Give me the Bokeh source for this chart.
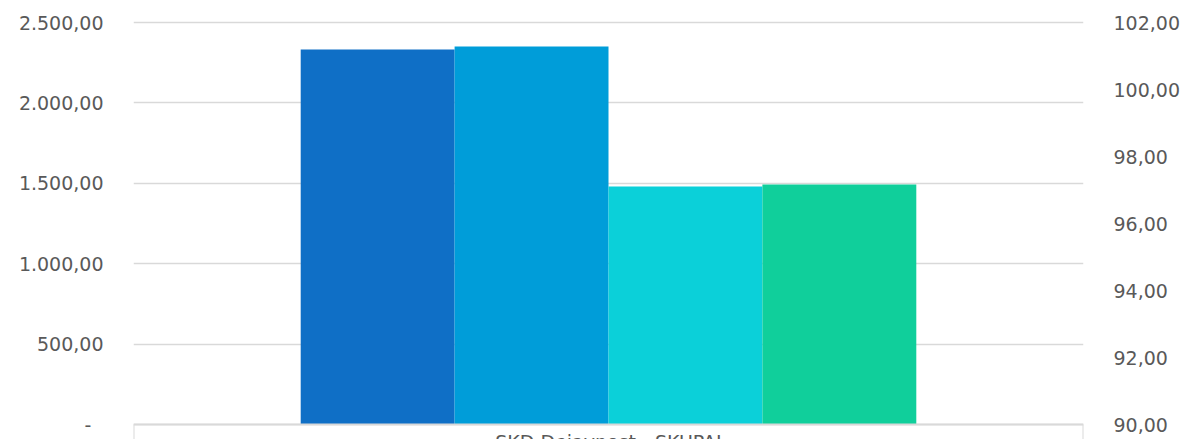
from bokeh.plotting import figure
from bokeh.models import Range1d, LinearAxis, FixedTicker, ColumnDataSource
from bokeh.core.properties import value
from bokeh.embed import file_html
from bokeh.resources import INLINE

# ---- data ----
category = "SKD Dejavnost - SKUPAJ"
series_names = ["Serija 1", "Serija 2", "Serija 3", "Serija 4"]
series_values = [2332, 2351, 1480, 1493]
series_colors = ["#0F6FC6", "#009DD9", "#0BD0D9", "#10CF9B"]
left_ticks = [0, 500, 1000, 1500, 2000, 2500]
left_labels = ["-\u00a0\u00a0", "500,00", "1.000,00", "1.500,00", "2.000,00", "2.500,00"]
right_ticks = [90, 92, 94, 96, 98, 100, 102]
right_labels = ["90,00", "92,00", "94,00", "96,00", "98,00", "100,00", "102,00"]

FONT = "DejaVu Sans"
TXT = "#595959"
GRID = "#D9D9D9"

# frame geometry (pixels): 0 at y=424, 2500 at y=22, frame height 439
PX_L = 402 / 2500.0
PX_R = 402 / 12.0

bar_w = 0.162
xs = [0.5 + (i - (len(series_values) - 1) / 2) * bar_w for i in range(len(series_values))]
src = ColumnDataSource(dict(x=xs, top=series_values, color=series_colors, name=series_names))

y_lo = -15 / PX_L
p = figure(width=1190, height=439, x_range=Range1d(0, 1),
           y_range=Range1d(y_lo, 2500 + 22 / PX_L),
           output_backend="svg", toolbar_location=None, x_axis_location=None,
           min_border_left=133, min_border_right=107, min_border_top=0, min_border_bottom=0)
p.outline_line_color = None
p.background_fill_color = "white"
p.border_fill_color = "white"

p.extra_y_ranges = {"right": Range1d(90 - 15 / PX_R, 102 + 22 / PX_R)}

ax = p.yaxis[0]
ax.ticker = FixedTicker(ticks=left_ticks)
ax.major_label_overrides = dict(zip(left_ticks, left_labels))

rax = LinearAxis(y_range_name="right", ticker=FixedTicker(ticks=right_ticks))
rax.major_label_overrides = dict(zip(right_ticks, right_labels))
p.add_layout(rax, "right")

for a in (ax, rax):
    a.axis_line_color = None
    a.major_tick_line_color = None
    a.minor_tick_line_color = None
    a.major_tick_out = 0
    a.major_tick_in = 0
    a.minor_tick_out = 0
    a.minor_tick_in = 0
    a.major_label_text_font = FONT
    a.major_label_text_font_size = "19px"
    a.major_label_text_color = TXT
ax.major_label_standoff = 30
rax.major_label_standoff = 30
rax.major_label_text_align = "left"

p.xgrid.grid_line_color = None
p.ygrid.grid_line_color = GRID
p.ygrid.grid_line_width = 1.5

p.vbar(x="x", top="top", bottom=0, width=bar_w, color="color", line_color=None, source=src)

# category axis box
p.segment(x0=[0, 0, 1], y0=[0, 0, 0], x1=[1, 0, 1], y1=[0, y_lo, y_lo],
          line_color=GRID, line_width=2)
p.text(x=[0.5], y=[-6 / PX_L], text=[category], text_align="center", text_baseline="top",
       text_font=value(FONT), text_font_size="19px", text_color=TXT)

open("out.html", "w").write(file_html(p, INLINE))
